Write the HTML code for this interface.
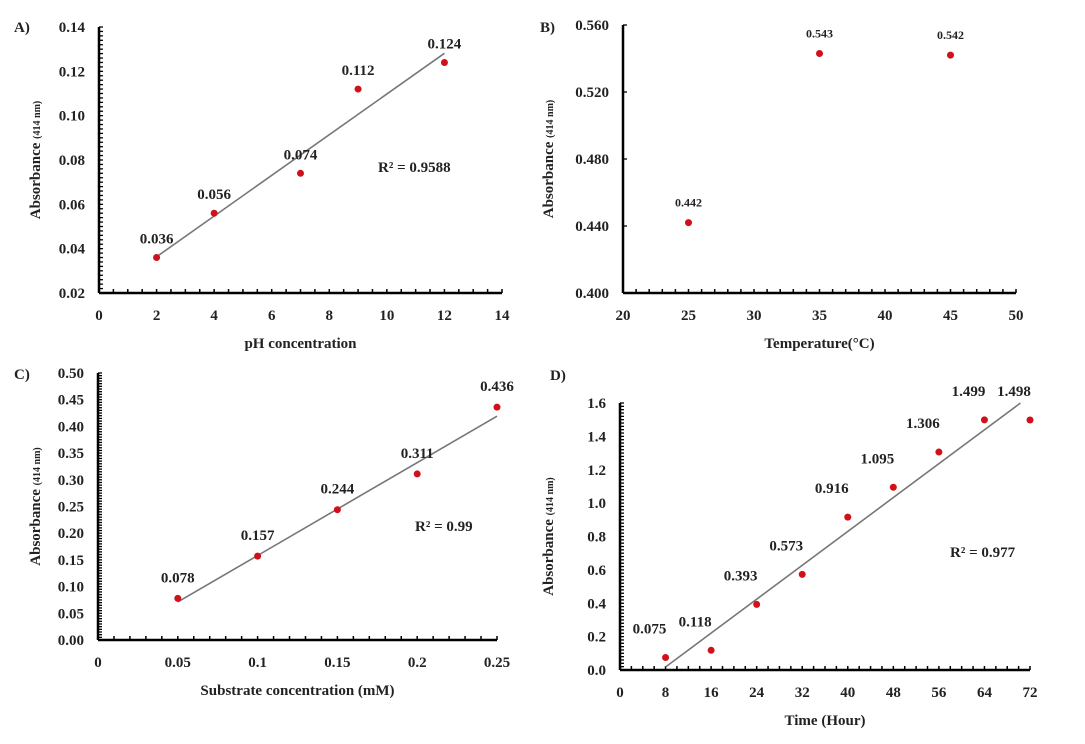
<!DOCTYPE html>
<html><head><meta charset="utf-8"><style>
html,body{margin:0;padding:0;background:#fff;}
svg{display:block;font-family:"Liberation Serif",serif;font-weight:bold;}
</style></head><body>
<svg id="fig" width="1085" height="744" viewBox="0 0 1085 744"></svg>
<script>
// Panel A data
const aX = [2, 4, 7, 9, 12];
const aY = [0.036, 0.056, 0.074, 0.112, 0.124];
const aXTicks = [0, 2, 4, 6, 8, 10, 12, 14];
const aYTicks = [0.02, 0.04, 0.06, 0.08, 0.10, 0.12, 0.14];
// Panel B data
const bX = [25, 35, 45];
const bY = [0.442, 0.543, 0.542];
const bXTicks = [20, 25, 30, 35, 40, 45, 50];
const bYTicks = [0.400, 0.440, 0.480, 0.520, 0.560];
// Panel C data
const cX = [0.05, 0.1, 0.15, 0.2, 0.25];
const cY = [0.078, 0.157, 0.244, 0.311, 0.436];
const cXTicks = [0, 0.05, 0.1, 0.15, 0.2, 0.25];
const cYTicks = [0, 0.05, 0.10, 0.15, 0.20, 0.25, 0.30, 0.35, 0.40, 0.45, 0.50];
// Panel D data
const dX = [8, 16, 24, 32, 40, 48, 56, 64, 72];
const dY = [0.075, 0.118, 0.393, 0.573, 0.916, 1.095, 1.306, 1.499, 1.498];
const dXTicks = [0, 8, 16, 24, 32, 40, 48, 56, 64, 72];
const dYTicks = [0, 0.2, 0.4, 0.6, 0.8, 1.0, 1.2, 1.4, 1.6];

const NS = "http://www.w3.org/2000/svg";
const svg = document.getElementById('fig');
function mk(tag, attrs, parent, txt){
  const e = document.createElementNS(NS, tag);
  for (const k in attrs) e.setAttribute(k, attrs[k]);
  if (txt !== undefined) e.textContent = txt;
  (parent || svg).appendChild(e);
  return e;
}
function linreg(xs, ys){
  const n = xs.length;
  const mx = xs.reduce((a,b)=>a+b,0)/n, my = ys.reduce((a,b)=>a+b,0)/n;
  let sxy=0, sxx=0;
  for (let i=0;i<n;i++){ sxy+=(xs[i]-mx)*(ys[i]-my); sxx+=(xs[i]-mx)**2; }
  const m = sxy/sxx; return {m, b: my - m*mx};
}

function panel(cfg){
  const g = mk('g', {}, svg);
  
  
  const sx = v => cfg.x0 + (v - cfg.xmin)/(cfg.xmax - cfg.xmin)*(cfg.x1 - cfg.x0);
  const sy = v => cfg.y0 - (v - cfg.ymin)/(cfg.ymax - cfg.ymin)*(cfg.y0 - cfg.y1);
  // axes
  const ax = mk('line', {x1:cfg.x0, y1:cfg.y0, x2:cfg.x1, y2:cfg.y0, stroke:'#000','stroke-width':2.5}, g);
  
  
  const ay = mk('line', {x1:cfg.x0, y1:cfg.y0, x2:cfg.x0, y2:cfg.y1, stroke:'#000','stroke-width':2.5}, g);
  
  
  // minor ticks
  const nxm = Math.round((cfg.xmax-cfg.xmin)/cfg.xminor);
  for (let i=0;i<=nxm;i++){
    const x = sx(cfg.xmin + i*cfg.xminor);
    mk('line', {x1:x, y1:cfg.y0, x2:x, y2:cfg.y0-4, stroke:'#000','stroke-width':1.5}, g);
  }
  const nym = Math.round((cfg.ymax-cfg.ymin)/cfg.yminor);
  for (let i=0;i<=nym;i++){
    const y = sy(cfg.ymin + i*cfg.yminor);
    mk('line', {x1:cfg.x0, y1:y, x2:cfg.x0+4, y2:y, stroke:'#000','stroke-width':1.3}, g);
  }
  // tick labels
  cfg.xt.forEach(v=>{
    const t = mk('text', {x:sx(v), y:cfg.y0+27, 'text-anchor':'middle','font-size':15, fill:'#222'}, g, String(v));
    
    
  });
  cfg.yt.forEach(v=>{
    const t = mk('text', {x:cfg.x0-14, y:sy(v)+5, 'text-anchor':'end','font-size':15, fill:'#222'}, g, v.toFixed(cfg.ydec));
    
    
  });
  // axis titles
  const xt = mk('text', {x:(cfg.x0+cfg.x1)/2, y:cfg.y0+55, 'text-anchor':'middle','font-size':15, fill:'#222'}, g, cfg.xtitle);
  
  
  const ycx = cfg.ytx, ycy = (cfg.y0+cfg.y1)/2;
  const yt = mk('text', {x:ycx, y:ycy, 'text-anchor':'middle','font-size':15, fill:'#222', transform:`rotate(-90 ${ycx} ${ycy})`}, g);
  
  
  mk('tspan', {}, yt, 'Absorbance ');
  mk('tspan', {'font-size':10}, yt, '(414 nm)');
  // panel letter
  const pl = mk('text', {x:cfg.lx, y:cfg.ly, 'font-size':15, fill:'#222'}, g, cfg.letter);
  
  
  // trendline
  if (cfg.trend){
    const r = linreg(cfg.xs, cfg.ys);
    let xa = cfg.xs[0], xb = cfg.xs[cfg.xs.length-1];
    let ya = r.m*xa + r.b, yb = r.m*xb + r.b;
    if (ya < cfg.ymin){ xa = (cfg.ymin - r.b)/r.m; ya = cfg.ymin; }
    if (yb > cfg.ymax){ xb = (cfg.ymax - r.b)/r.m; yb = cfg.ymax; }
    const tl = mk('line', {x1:sx(xa), y1:sy(ya), x2:sx(xb), y2:sy(yb), stroke:'#777','stroke-width':1.6}, g);
    
    
    const rt = mk('text', {x:cfg.rx, y:cfg.ry, 'font-size':15, fill:'#222'}, g, cfg.r2);
    
    
  }
  // points
  cfg.xs.forEach((v,i)=>{
    const c = mk('circle', {cx:sx(v), cy:sy(cfg.ys[i]), r:3.5, fill:'#d0101a'}, g);
    
    
    const lbl = mk('text', {x:sx(v)+cfg.ldx, y:sy(cfg.ys[i])+cfg.ldy, 'text-anchor':'middle','font-size':cfg.lfs, fill:'#222'}, g, cfg.ys[i].toFixed(3));
    
    
  });
}

panel({name:'panel-a-ph', letter:'A)', lx:14, ly:32, x0:99, x1:502, y0:293, y1:27,
  xmin:0, xmax:14, ymin:0.02, ymax:0.14, xminor:0.5, yminor:0.002, xt:aXTicks, yt:aYTicks, ydec:2,
  xtitle:'pH concentration', ytx:40, xs:aX, ys:aY, trend:true, rx:378, ry:172, r2:'R² = 0.9588',
  ldx:0, ldy:-14, lfs:15});
panel({name:'panel-b-temperature', letter:'B)', lx:540, ly:32, x0:623, x1:1016, y0:293, y1:25,
  xmin:20, xmax:50, ymin:0.400, ymax:0.560, xminor:1, yminor:0.04, xt:bXTicks, yt:bYTicks, ydec:3,
  xtitle:'Temperature(°C)', ytx:553, xs:bX, ys:bY, trend:false,
  ldx:0, ldy:-16, lfs:12});
panel({name:'panel-c-substrate', letter:'C)', lx:14, ly:379, x0:98, x1:497, y0:640, y1:373,
  xmin:0, xmax:0.25, ymin:0, ymax:0.50, xminor:0.01, yminor:0.005, xt:cXTicks, yt:cYTicks, ydec:2,
  xtitle:'Substrate concentration (mM)', ytx:40, xs:cX, ys:cY, trend:true, rx:415, ry:531, r2:'R² = 0.99',
  ldx:0, ldy:-16, lfs:15});
panel({name:'panel-d-time', letter:'D)', lx:550, ly:380, x0:620, x1:1030, y0:670, y1:403,
  xmin:0, xmax:72, ymin:0, ymax:1.6, xminor:2, yminor:0.02, xt:dXTicks, yt:dYTicks, ydec:1,
  xtitle:'Time (Hour)', ytx:553, xs:dX, ys:dY, trend:true, rx:950, ry:557, r2:'R² = 0.977',
  ldx:-16, ldy:-24, lfs:15});
</script>
</body></html>
